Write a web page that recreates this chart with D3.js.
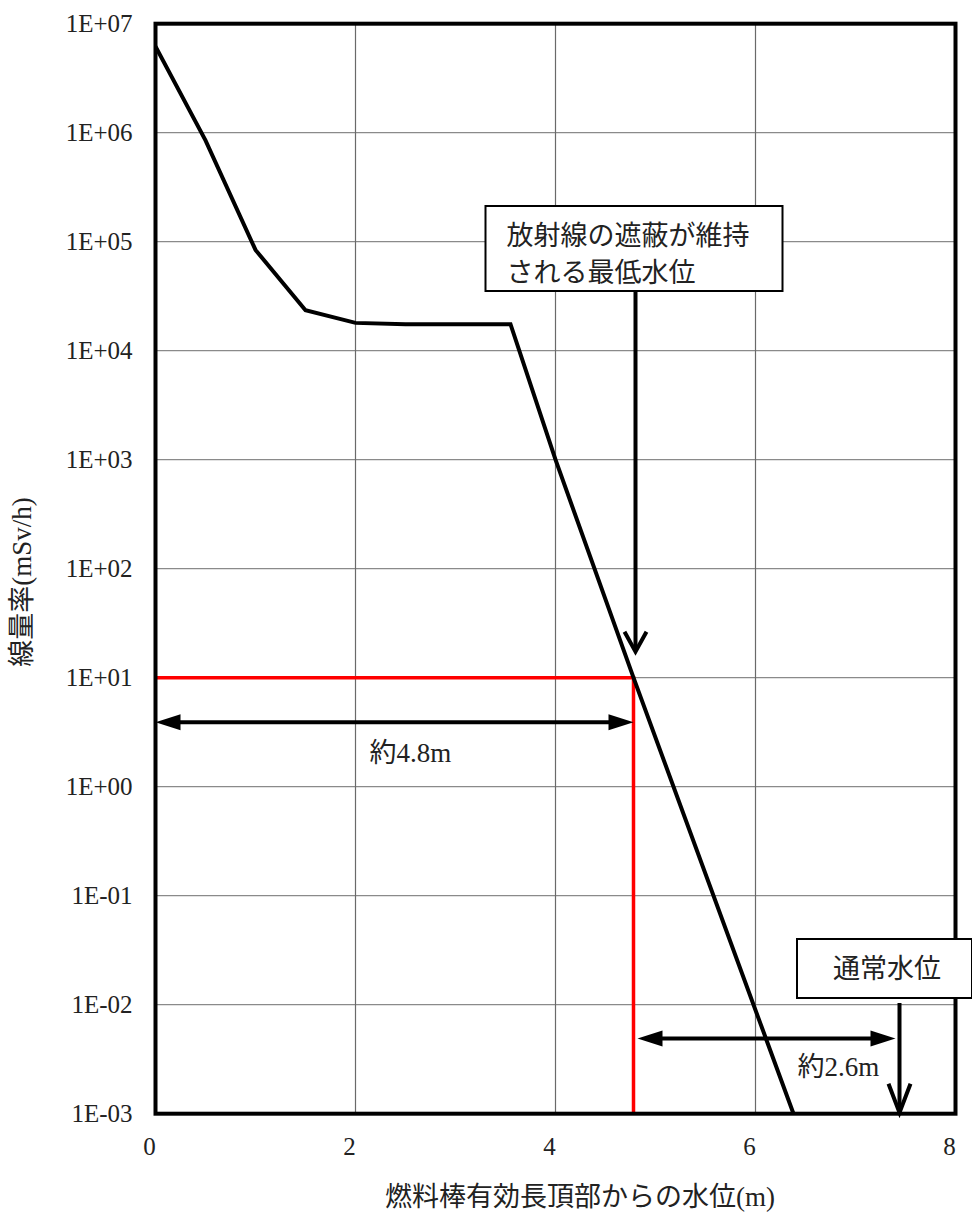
<!DOCTYPE html>
<html>
<head>
<meta charset="utf-8">
<script src="https://cdn.jsdelivr.net/npm/d3@7"></script>
<style>
  body { margin: 0; background: #fff; }
  text { font-family: "Liberation Serif", "Noto Sans CJK JP", serif; fill: #222; }
</style>
</head>
<body>
<svg id="chart" width="972" height="1213"></svg>
<script>
// water level above top of active fuel (m) vs dose rate (mSv/h)
const levels = [0, 0.5, 1.0, 1.5, 2.0, 2.5, 3.55, 4.0, 4.78, 6.38]
const doseRates = [6.2e6, 8.5e5, 8.4e4, 2.35e4, 1.8e4, 1.75e4, 1.75e4, 1.0e3, 10, 1e-3]

const xTicks = [0, 2, 4, 6, 8]
const yTicks = [1e-3, 1e-2, 1e-1, 1e0, 1e1, 1e2, 1e3, 1e4, 1e5, 1e6, 1e7]
const yTickLabels = ['1E-03', '1E-02', '1E-01', '1E+00', '1E+01', '1E+02', '1E+03', '1E+04', '1E+05', '1E+06', '1E+07']

// annotation values
const shieldLevel = 4.78
const shieldDose = 10
const normalLevel = 7.44
const shieldLabel = ['放射線の遮蔽が維持', 'される最低水位']
const normalLabel = '通常水位'
const span1Label = '約4.8m'
const span2Label = '約2.6m'

const margin = { left: 155.5, right: 16.5, top: 23.7, bottom: 99.3 }
const W = 972
const H = 1213

const svg = d3.select('#chart')

const x = d3.scaleLinear().domain([0, 8]).range([margin.left, W - margin.right])
const y = d3.scaleLog().domain([1e-3, 1e7]).range([H - margin.bottom, margin.top])

const [x0, x1] = x.range()
const [y0, y1] = y.range()

// grid
svg.append('g')
  .selectAll('line')
  .data(yTicks)
  .join('line')
  .attr('x1', x0).attr('x2', x1)
  .attr('y1', (d) => y(d)).attr('y2', (d) => y(d))
  .style('stroke', '#8a8a8a')
  .style('stroke-width', '1.2px')

svg.append('g')
  .selectAll('line')
  .data(xTicks)
  .join('line')
  .attr('x1', (d) => x(d)).attr('x2', (d) => x(d))
  .attr('y1', y0).attr('y2', y1)
  .style('stroke', '#6a6a6a')
  .style('stroke-width', '1.2px')

// red reference lines
svg.append('path')
  .attr('fill', 'none')
  .style('stroke', '#ff0000')
  .style('stroke-width', '3.5px')
  .attr('d', d3.line()([
    [x(0), y(shieldDose)],
    [x(shieldLevel), y(shieldDose)],
    [x(shieldLevel), y(1e-3)],
  ]))

// dose curve
svg.append('clipPath').attr('id', 'plot-clip')
  .append('rect')
  .attr('x', x0).attr('y', y1)
  .attr('width', x1 - x0).attr('height', y0 - y1)

const line = d3.line()
  .x((d, i) => x(levels[i]))
  .y((d) => y(d))

svg.append('path')
  .datum(doseRates)
  .attr('clip-path', 'url(#plot-clip)')
  .attr('fill', 'none')
  .style('stroke', '#000')
  .style('stroke-width', '4px')
  .style('stroke-linejoin', 'miter')
  .attr('d', line)

// frame
svg.append('rect')
  .attr('x', x0).attr('y', y1)
  .attr('width', x1 - x0).attr('height', y0 - y1)
  .attr('fill', 'none')
  .style('stroke', '#000')
  .style('stroke-width', '4px')

// tick labels
svg.append('g')
  .selectAll('text')
  .data(yTicks)
  .join('text')
  .attr('x', x0 - 23)
  .attr('y', (d) => y(d) + 8.5)
  .attr('text-anchor', 'end')
  .style('font-size', '25px')
  .text((d, i) => yTickLabels[i])

svg.append('g')
  .selectAll('text')
  .data(xTicks)
  .join('text')
  .attr('x', (d) => x(d) - 6)
  .attr('y', y0 + 41)
  .attr('text-anchor', 'middle')
  .style('font-size', '25px')
  .text((d) => d)

// axis titles
svg.append('text')
  .attr('x', 580)
  .attr('y', y0 + 92)
  .attr('text-anchor', 'middle')
  .style('font-size', '27px')
  .text('燃料棒有効長頂部からの水位(m)')

svg.append('text')
  .attr('transform', `translate(${31},${582}) rotate(-90)`)
  .attr('text-anchor', 'middle')
  .style('font-size', '27px')
  .text('線量率(mSv/h)')

// arrow helpers
const arrowHead = (tipX, tipY, dx, dy, len, half) => {
  const bx = tipX - dx * len
  const by = tipY - dy * len
  return [[tipX, tipY], [bx - dy * half, by + dx * half], [bx + dy * half, by - dx * half]]
}

const drawSpan = (xa, xb, yv) => {
  const ya = y(yv)
  const pa = x(xa)
  const pb = x(xb)
  svg.append('line')
    .attr('x1', pa + 10).attr('x2', pb - 10)
    .attr('y1', ya).attr('y2', ya)
    .style('stroke', '#000').style('stroke-width', '4px')
  svg.append('polygon')
    .attr('points', arrowHead(pa, ya, -1, 0, 25, 8).join(' '))
    .attr('fill', '#000')
  svg.append('polygon')
    .attr('points', arrowHead(pb, ya, 1, 0, 25, 8).join(' '))
    .attr('fill', '#000')
}

const drawDown = (xv, yTop, tipY, wing) => {
  const px = x(xv)
  svg.append('line')
    .attr('x1', px).attr('x2', px)
    .attr('y1', yTop).attr('y2', tipY - 2)
    .style('stroke', '#000').style('stroke-width', '4px')
  const [a, b, c] = arrowHead(px, tipY, 0, 1, wing[0], wing[1])
  svg.append('path')
    .attr('fill', 'none')
    .style('stroke', '#000').style('stroke-width', '4px')
    .style('stroke-linejoin', 'miter')
    .attr('d', d3.line()([b, a, c]))
}

// span arrows
drawSpan(0, shieldLevel, 3.9)
svg.append('text')
  .attr('x', x(2.55)).attr('y', y(3.9) + 40)
  .attr('text-anchor', 'middle')
  .style('font-size', '27px')
  .text(span1Label)

drawSpan(shieldLevel + 0.04, normalLevel - 0.04, 0.0049)
svg.append('text')
  .attr('x', x(6.83)).attr('y', y(0.0049) + 38)
  .attr('text-anchor', 'middle')
  .style('font-size', '27px')
  .text(span2Label)

// callout: minimum level keeping shielding
const box1 = { x: x(3.3), y: 206, w: x(6.27) - x(3.3), h: 85 }
drawDown(shieldLevel + 0.02, box1.y + box1.h, y(shieldDose) - 26, [20, 11])
svg.append('rect')
  .attr('x', box1.x).attr('y', box1.y)
  .attr('width', box1.w).attr('height', box1.h)
  .attr('fill', '#fff')
  .style('stroke', '#000').style('stroke-width', '2px')
svg.append('g')
  .selectAll('text')
  .data(shieldLabel)
  .join('text')
  .attr('x', box1.x + 21)
  .attr('y', (d, i) => box1.y + 39 + i * 37)
  .style('font-size', '27px')
  .text((d) => d)

// callout: normal water level
const box2 = { x: 797, y: 939, w: 175, h: 59 }
drawDown(normalLevel, box2.y + box2.h + 5, y(1e-3) - 1, [29, 11])
svg.append('rect')
  .attr('x', box2.x).attr('y', box2.y)
  .attr('width', box2.w).attr('height', box2.h)
  .attr('fill', '#fff')
  .style('stroke', '#000').style('stroke-width', '2px')
svg.append('text')
  .attr('x', box2.x + 90).attr('y', box2.y + 39)
  .attr('text-anchor', 'middle')
  .style('font-size', '27px')
  .text(normalLabel)
</script>
</body>
</html>
